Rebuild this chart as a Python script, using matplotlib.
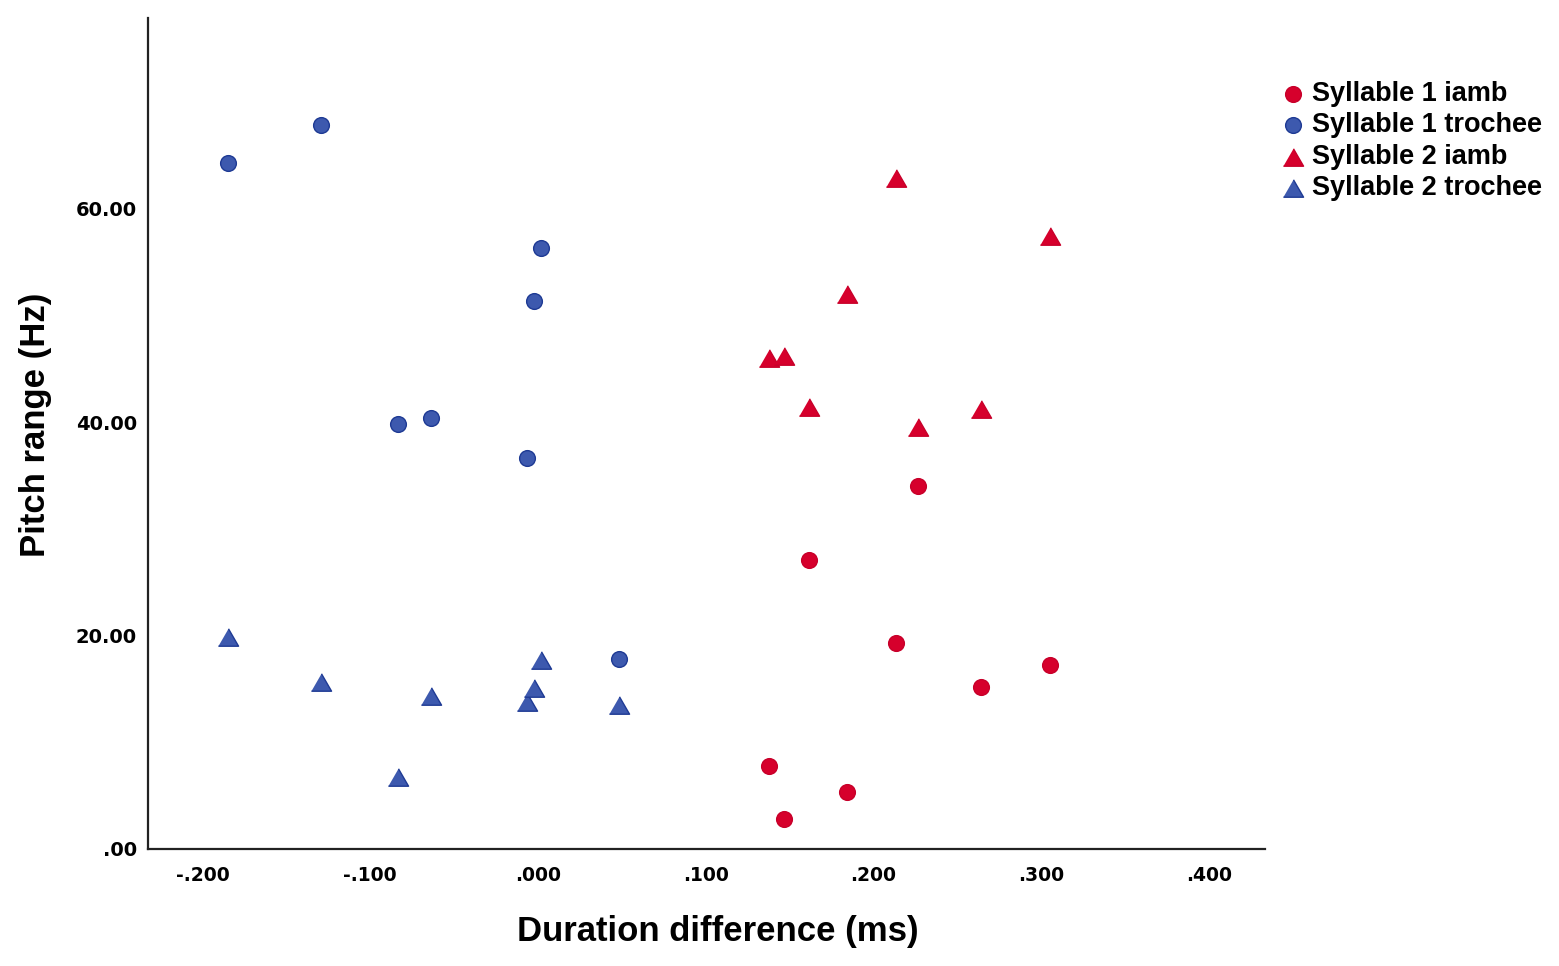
import matplotlib
matplotlib.use("Agg")
import matplotlib.pyplot as plt

# Duration difference per speaker (ms) and pitch ranges (Hz)
iamb_dur = [0.1375, 0.1465, 0.1614, 0.1844, 0.2132, 0.2263, 0.2643, 0.3052]
iamb_syl1 = [7.78, 2.78, 27.07, 5.34, 19.34, 34.06, 15.19, 17.28]
iamb_syl2 = [46.0, 46.2, 41.4, 52.0, 62.9, 39.6, 41.27, 57.5]

trochee_dur = [-0.1846, -0.1294, -0.0836, -0.0636, -0.0067, -0.0026, 0.0016, 0.0483]
trochee_syl1 = [64.28, 67.9, 39.84, 40.4, 36.65, 51.35, 56.37, 17.81]
trochee_syl2 = [19.85, 15.69, 6.75, 14.37, 13.81, 15.06, 17.72, 13.5]

series_labels = ["Syllable 1 iamb", "Syllable 1 trochee", "Syllable 2 iamb", "Syllable 2 trochee"]
x_ticks = [-0.2, -0.1, 0.0, 0.1, 0.2, 0.3, 0.4]
x_tick_labels = ["-.200", "-.100", ".000", ".100", ".200", ".300", ".400"]
y_ticks = [0, 20, 40, 60]
y_tick_labels = [".00", "20.00", "40.00", "60.00"]

RED = "#D6002C"
RED_EDGE = "#C8002A"
BLUE = "#3D59AE"
BLUE_EDGE = "#1E3A94"
FONT = "Liberation Sans"
TICKFONT = "DejaVu Sans"

tri = [(-1, -0.866), (1, -0.866), (0, 0.866)]

fig = plt.figure(figsize=(15.59, 9.66), dpi=100)
ax = fig.add_axes([148/1559, 1-849/966, (1265-148)/1559, (849-18)/966])

ax.scatter(iamb_dur, iamb_syl1, s=128, marker="o", color=RED, edgecolors=RED_EDGE, linewidths=1.0, label=series_labels[0], zorder=3)
ax.scatter(trochee_dur, trochee_syl1, s=128, marker="o", color=BLUE, edgecolors=BLUE_EDGE, linewidths=1.0, label=series_labels[1], zorder=3)
ax.scatter(iamb_dur, iamb_syl2, s=210, marker=tri, color=RED, edgecolors=RED_EDGE, linewidths=1.0, label=series_labels[2], zorder=3)
ax.scatter(trochee_dur, trochee_syl2, s=210, marker=tri, color=BLUE, edgecolors=BLUE_EDGE, linewidths=1.0, label=series_labels[3], zorder=3)

ax.set_xlim(-0.2325, 0.4334)
ax.set_ylim(0, 77.9)

for s in ["top", "right"]:
    ax.spines[s].set_visible(False)
for s in ["left", "bottom"]:
    ax.spines[s].set_linewidth(1.6)
    ax.spines[s].set_color("#222222")

ax.set_xticks(x_ticks)
ax.set_xticklabels(x_tick_labels, fontsize=13.5, fontweight="bold", family=TICKFONT)
ax.set_yticks(y_ticks)
ax.set_yticklabels(y_tick_labels, fontsize=14, fontweight="bold", family=TICKFONT)
ax.tick_params(axis="x", length=0, pad=12)
ax.tick_params(axis="y", length=0, pad=8)

ax.set_xlabel("Duration difference (ms)", fontsize=25, fontweight="bold", family=FONT, labelpad=21.5)
ax.set_ylabel("Pitch range (Hz)", fontsize=25, fontweight="bold", family=FONT, labelpad=17)
ax.xaxis.label.set_x(0.51)
ax.yaxis.label.set_y(0.511)

leg = fig.legend(loc="upper left", bbox_to_anchor=(1282/1559, 1-81/966), frameon=False,
                 prop={"family": FONT, "weight": "bold", "size": 19.5},
                 handletextpad=0.3, labelspacing=0.2, borderpad=0, handlelength=0.8,
                 borderaxespad=0)

fig.savefig("out.png", dpi=100, facecolor="white")
